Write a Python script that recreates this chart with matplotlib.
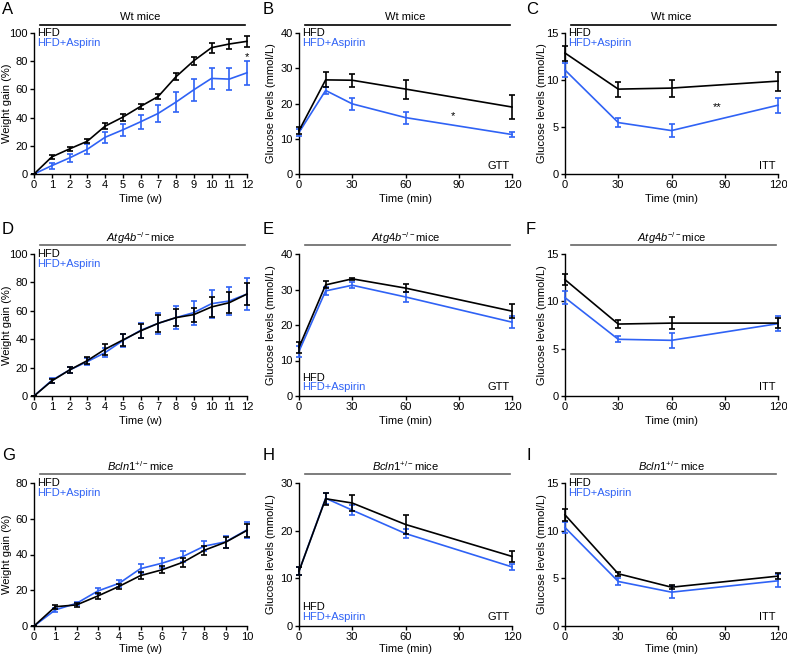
import matplotlib
matplotlib.use("Agg")
import matplotlib.pyplot as plt
from matplotlib.lines import Line2D

plt.rcParams['font.family'] = ['Liberation Sans', 'DejaVu Sans']
plt.rcParams['mathtext.fontset'] = 'custom'
plt.rcParams['mathtext.rm'] = 'Liberation Sans'
plt.rcParams['mathtext.it'] = 'Liberation Sans:italic'

BLUE = '#2f62f5'

# ---------------- data ----------------
weeks12 = [0, 1, 2, 3, 4, 5, 6, 7, 8, 9, 10, 11, 12]
weeks10 = [0, 1, 2, 3, 4, 5, 6, 7, 8, 9, 10]
gtt_t = [0, 15, 30, 60, 120]
itt_t = [0, 30, 60, 120]

# A: Wt weight gain
a_hfd = [0, 12.1, 17.8, 23.2, 33.9, 40.3, 47.9, 55.0, 69.0, 80.3, 89.6, 92.2, 94.1]
a_hfd_err = [0, 1.5, 1.5, 1.5, 2.0, 2.5, 2.0, 2.0, 2.5, 3.0, 3.5, 3.5, 4.0]
a_asp = [0, 5.9, 11.4, 17.5, 26.0, 31.3, 37.0, 43.0, 51.0, 59.7, 67.8, 67.3, 71.8]
a_asp_err = [0, 2.2, 3.0, 3.5, 4.0, 4.5, 5.0, 6.0, 7.0, 7.8, 7.5, 8.0, 8.4]

# B: Wt GTT
b_hfd = [12.3, 26.7, 26.6, 24.1, 19.0]
b_hfd_err = [1.0, 2.1, 1.8, 2.7, 3.4]
b_asp = [11.8, 23.7, 19.9, 16.0, 11.2]
b_asp_err = [1.0, 1.0, 1.8, 1.7, 0.7]

# C: Wt ITT
c_hfd = [12.87, 9.03, 9.14, 9.88]
c_hfd_err = [0.8, 0.8, 0.9, 1.0]
c_asp = [11.06, 5.47, 4.62, 7.32]
c_asp_err = [0.7, 0.5, 0.7, 0.8]

# D: Atg4b-/- weight gain
d_hfd = [0, 10.6, 18.3, 24.9, 32.9, 39.4, 45.8, 51.2, 55.2, 57.3, 62.7, 65.7, 71.8]
d_hfd_err = [0, 1.5, 2.0, 2.5, 4.0, 4.0, 5.0, 6.0, 6.0, 5.0, 7.0, 7.5, 8.0]
d_asp = [0, 11.0, 18.3, 24.2, 30.5, 39.0, 46.2, 51.2, 55.2, 58.7, 65.0, 66.9, 71.8]
d_asp_err = [0, 1.5, 2.0, 2.5, 3.0, 4.5, 5.5, 7.5, 8.0, 8.5, 10.0, 10.0, 11.0]

# E: Atg4b-/- GTT
e_hfd = [13.7, 31.3, 33.0, 30.4, 23.9]
e_hfd_err = [1.5, 1.0, 0.3, 1.2, 2.0]
e_asp = [12.6, 29.6, 31.2, 27.9, 20.8]
e_asp_err = [1.5, 1.2, 0.8, 1.3, 1.7]

# F: Atg4b-/- ITT
f_hfd = [12.29, 7.6, 7.7, 7.7]
f_hfd_err = [0.6, 0.4, 0.6, 0.5]
f_asp = [10.39, 5.99, 5.88, 7.64]
f_asp_err = [0.7, 0.3, 0.8, 0.8]

# G: Bcln1+/- weight gain
g_hfd = [0, 10.8, 11.8, 16.8, 22.2, 28.2, 31.4, 35.7, 42.4, 46.9, 53.5]
g_hfd_err = [0, 1.2, 1.0, 1.5, 1.5, 2.0, 2.0, 2.5, 2.5, 3.0, 3.5]
g_asp = [0, 9.0, 12.7, 19.6, 23.9, 32.1, 35.1, 38.9, 44.7, 47.1, 53.8]
g_asp_err = [0, 1.0, 1.0, 1.5, 2.0, 2.5, 2.7, 3.0, 3.0, 3.5, 4.5]

# H: Bcln1+/- GTT
h_hfd = [11.5, 26.7, 25.8, 21.3, 14.6]
h_hfd_err = [0.8, 1.3, 1.7, 1.9, 1.2]
h_asp = [11.5, 26.8, 24.3, 19.4, 12.4]
h_asp_err = [0.8, 1.2, 1.0, 1.0, 0.6]

# I: Bcln1+/- ITT
i_hfd = [11.66, 5.48, 4.07, 5.23]
i_hfd_err = [0.6, 0.2, 0.2, 0.3]
i_asp = [10.33, 4.67, 3.55, 4.74]
i_asp_err = [0.6, 0.4, 0.6, 0.7]

titles_row = ['Wt mice', r'$\mathit{Atg4b}^{-/-}$mice', r'$\mathit{Bcln1}^{+/-}$mice']

# ---------------- layout ----------------
W, H = 787, 655
fig = plt.figure(figsize=(W / 100, H / 100), dpi=100)

col_left = [34, 299, 565]
col_w = 213
row_top = [33, 254, 483]
row_bot = [174, 396, 626]
ylabel_x = [7, 271, 542]
xlabel_pad = [3.0, 3.0, 1.0]


def make_ax(r, c):
    l = col_left[c]
    t = row_top[r]
    b = row_bot[r]
    return fig.add_axes([l / W, 1 - b / H, col_w / W, (b - t) / H])


def style(ax):
    for s in ['top', 'right']:
        ax.spines[s].set_visible(False)
    for s in ['left', 'bottom']:
        ax.spines[s].set_linewidth(1.0)
    ax.tick_params(direction='out', length=3, width=1.0, labelsize=8, pad=1.5)


def series(ax, x, y, e, color, z):
    ax.errorbar(x, y, yerr=e, color=color, lw=1.2, elinewidth=1.2,
                capsize=2.0, capthick=1.2, zorder=z, clip_on=False)


def header(ax, txt, line_color):
    ax.add_line(Line2D([0.03, 0.99], [1.06, 1.06], transform=ax.transAxes,
                       color=line_color, lw=1.2, clip_on=False))
    ax.text(0.5, 1.115, txt, transform=ax.transAxes, ha='center', va='center',
            fontsize=8)


panels = [
    (0, 0, weeks12, a_hfd, a_hfd_err, a_asp, a_asp_err, 100, 20, weeks12, 'Time (w)', 'Weight gain (%)', None),
    (0, 1, gtt_t, b_hfd, b_hfd_err, b_asp, b_asp_err, 40, 10, [0, 30, 60, 90, 120], 'Time (min)', 'Glucose levels (mmol/L)', 'GTT'),
    (0, 2, itt_t, c_hfd, c_hfd_err, c_asp, c_asp_err, 15, 5, [0, 30, 60, 90, 120], 'Time (min)', 'Glucose levels (mmol/L)', 'ITT'),
    (1, 0, weeks12, d_hfd, d_hfd_err, d_asp, d_asp_err, 100, 20, weeks12, 'Time (w)', 'Weight gain (%)', None),
    (1, 1, gtt_t, e_hfd, e_hfd_err, e_asp, e_asp_err, 40, 10, [0, 30, 60, 90, 120], 'Time (min)', 'Glucose levels (mmol/L)', 'GTT'),
    (1, 2, itt_t, f_hfd, f_hfd_err, f_asp, f_asp_err, 15, 5, [0, 30, 60, 90, 120], 'Time (min)', 'Glucose levels (mmol/L)', 'ITT'),
    (2, 0, weeks10, g_hfd, g_hfd_err, g_asp, g_asp_err, 80, 20, weeks10, 'Time (w)', 'Weight gain (%)', None),
    (2, 1, gtt_t, h_hfd, h_hfd_err, h_asp, h_asp_err, 30, 10, [0, 30, 60, 90, 120], 'Time (min)', 'Glucose levels (mmol/L)', 'GTT'),
    (2, 2, itt_t, i_hfd, i_hfd_err, i_asp, i_asp_err, 15, 5, [0, 30, 60, 90, 120], 'Time (min)', 'Glucose levels (mmol/L)', 'ITT'),
]
axes = []
for k, (r, c, x, yh, eh, ya, ea, ymax, ystep, xt, xl, yl, tag) in enumerate(panels):
    ax = make_ax(r, c)
    style(ax)
    series(ax, x, ya, ea, BLUE, 3)
    series(ax, x, yh, eh, 'black', 4)
    ax.set_xlim(0, xt[-1])
    ax.set_ylim(0, ymax)
    ax.set_xticks(xt)
    ax.set_yticks(list(range(0, ymax + 1, ystep)))
    ax.set_xlabel(xl, fontsize=8, labelpad=xlabel_pad[r])
    ax.set_ylabel(yl, fontsize=8)
    ax.yaxis.label.set_verticalalignment('center')
    ax.yaxis.set_label_coords((ylabel_x[c] - col_left[c]) / col_w, 0.5)
    header(ax, titles_row[r], 'black' if r == 0 else '#666666')
    if tag:
        ax.text(0.99, 0.06, tag, transform=ax.transAxes, ha='right', va='center', fontsize=8)
    if (r, c) in [(1, 1), (2, 1)]:
        ax.text(0.015, 0.13, 'HFD', transform=ax.transAxes, ha='left', va='center', fontsize=8, color='black')
        ax.text(0.015, 0.06, 'HFD+Aspirin', transform=ax.transAxes, ha='left', va='center', fontsize=8, color=BLUE)
    elif (r, c) != (1, 2):
        ax.text(0.015, 1.0, 'HFD', transform=ax.transAxes, ha='left', va='center', fontsize=8, color='black')
        ax.text(0.015, 0.93, 'HFD+Aspirin', transform=ax.transAxes, ha='left', va='center', fontsize=8, color=BLUE)
    axes.append(ax)

# significance marks
axes[0].text(12, 83, '*', ha='center', va='center', fontsize=8)
axes[1].text(87, 16.3, '*', ha='center', va='center', fontsize=8)
axes[2].text(86, 7.1, '**', ha='center', va='center', fontsize=8)

# panel letters
letter_pos = {'A': (2, 10), 'B': (263, 10), 'C': (526, 10),
              'D': (2, 229), 'E': (263, 229), 'F': (526, 229),
              'G': (2, 456), 'H': (263, 456), 'I': (526, 456)}
for L, (px, py) in letter_pos.items():
    fig.text(px / W, 1 - py / H, L, ha='left', va='center', fontsize=12)

fig.savefig('out.png', dpi=100)
